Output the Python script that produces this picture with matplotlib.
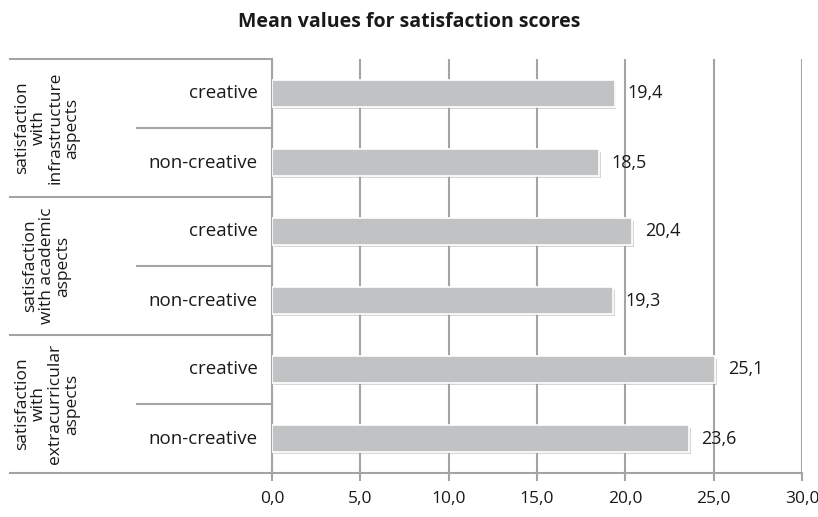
import matplotlib
matplotlib.use("Agg")
import matplotlib.pyplot as plt
import matplotlib.patheffects as pe

# data
groups = ["satisfaction\nwith\ninfrastructure\naspects",
          "satisfaction\nwith academic\naspects",
          "satisfaction\nwith\nextracurricular\naspects"]
categories = ["creative", "non-creative",
              "creative", "non-creative",
              "creative", "non-creative"]
values = [19.4, 18.5, 20.4, 19.3, 25.1, 23.6]
xticks = [0, 5, 10, 15, 20, 25, 30]

plt.rcParams['font.family'] = ['Open Sans', 'DejaVu Sans']
grid_col = "#a4a4a6"
bar_col = "#c1c2c4"
txt_col = "#1a1a1a"

fig = plt.figure(figsize=(8.18, 5.17), dpi=100)
W, H = 818, 517
ax = fig.add_axes([272 / W, (H - 473) / H, (802 - 272) / W, (473 - 59) / H])

ypos = list(range(len(values)))
bars = ax.barh(ypos, values, height=0.39, color=bar_col, edgecolor="white",
               linewidth=1.2, zorder=3)
for b in bars:
    b.set_path_effects([pe.SimplePatchShadow(offset=(1.2, -1.8), shadow_rgbFace="#999999", alpha=0.4),
                        pe.Normal()])

for y, v in zip(ypos, values):
    ax.annotate(("%.1f" % v).replace(".", ","), (v, y), xytext=(9, 0),
                textcoords="offset points", ha="left", va="center",
                fontsize=13, color=txt_col, zorder=4)

ax.set_xlim(0, 30)
ax.set_ylim(len(values) - 0.5, -0.5)
ax.set_xticks(xticks)
ax.set_xticklabels([("%.1f" % t).replace(".", ",") for t in xticks], fontsize=12.5, color=txt_col)
ax.set_yticks([])
ax.tick_params(axis="x", length=6, width=1.5, color=grid_col, pad=7)
ax.grid(axis="x", color=grid_col, linewidth=1.5, zorder=0)
ax.set_axisbelow(True)
for s in ["top", "right"]:
    ax.spines[s].set_visible(False)
ax.spines["left"].set_color(grid_col)
ax.spines["left"].set_linewidth(1.5)
ax.spines["bottom"].set_color(grid_col)
ax.spines["bottom"].set_linewidth(1.5)

# left-hand category table
tr = ax.get_yaxis_transform()
left_x = (10 - 272) / (802 - 272)
inner_x = (137 - 272) / (802 - 272)
ngroups = len(groups)
per = len(categories) // ngroups
for g in range(ngroups + 1):
    yb = g * per - 0.5
    ax.plot([left_x, 0], [yb, yb], transform=tr, color=grid_col, lw=1.5, clip_on=False)
for g in range(ngroups):
    for k in range(1, per):
        yb = g * per + k - 0.5
        ax.plot([inner_x, 0], [yb, yb], transform=tr, color=grid_col, lw=1.5, clip_on=False)
    ax.text((47 - 272) / (802 - 272), g * per + (per - 1) / 2, groups[g], transform=tr,
            rotation=90, ha="center", va="center", multialignment="center",
            fontsize=12.5, color=txt_col, linespacing=1.05)

for y, c in zip(ypos, categories):
    ax.text((258 - 272) / (802 - 272), y, c, transform=tr, ha="right", va="center",
            fontsize=13.5, color=txt_col)

fig.text(0.5, 1 - 22 / H, "Mean values for satisfaction scores", ha="center", va="center",
         fontsize=14, fontweight="bold", color=txt_col)

fig.savefig("out.png", dpi=100)
